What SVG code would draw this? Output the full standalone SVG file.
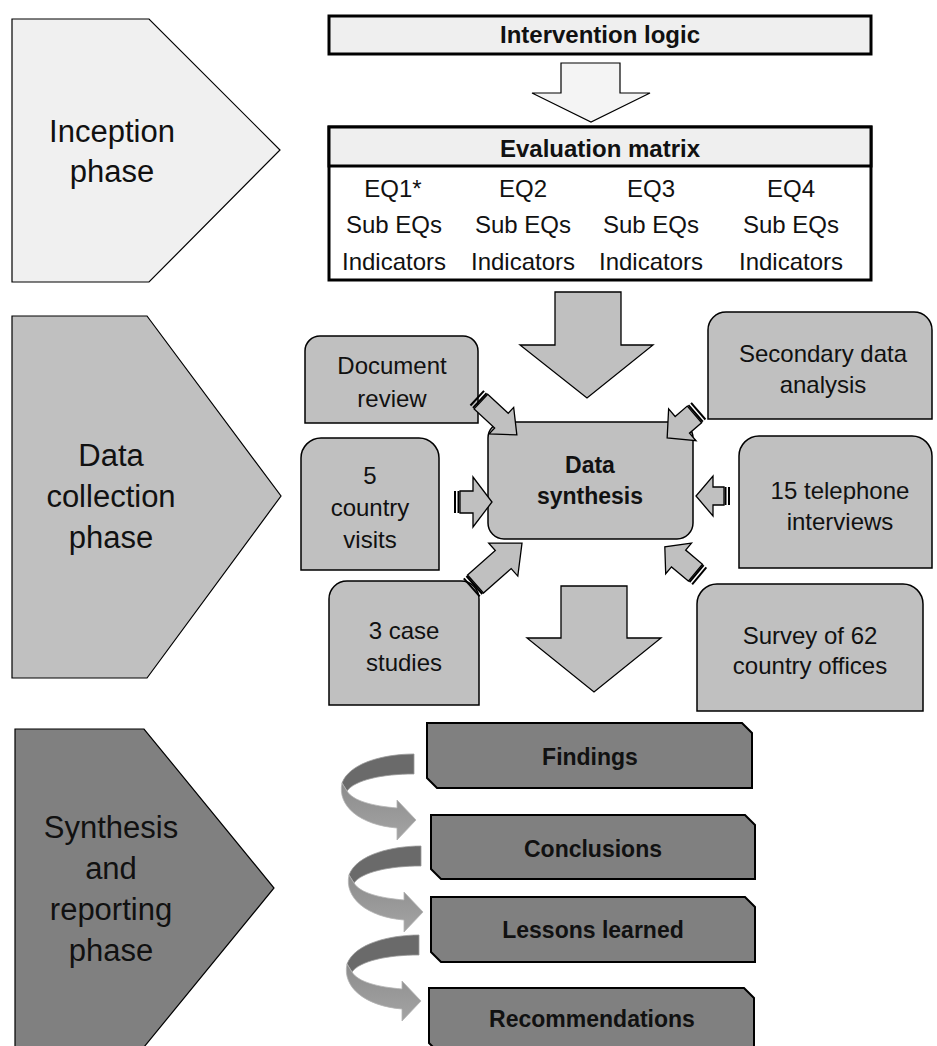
<svg xmlns="http://www.w3.org/2000/svg" width="937" height="1046" viewBox="0 0 937 1046">
<style>
text{font-family:"Liberation Sans",Arial,sans-serif;fill:#111;text-anchor:middle}
.ph{font-size:31px}
.bx{font-size:24px}
.mx{font-size:24px}
.b{font-weight:bold;font-size:23px}
.bh{font-weight:bold;font-size:24px}
.thick{stroke:#000;stroke-width:3}
.mid{fill:#c0c0c0;stroke:#000;stroke-width:1.5}
.dark{fill:#808080;stroke:#000;stroke-width:2}
.arr{fill:#c0c0c0;stroke:#000;stroke-width:1.3;stroke-linejoin:miter}
.stripe{fill:#000}
</style>
<defs>
<linearGradient id="ribbon" x1="0" y1="0" x2="0" y2="1">
<stop offset="0" stop-color="#8c8c8c"/>
<stop offset="1" stop-color="#a4a4a4"/>
</linearGradient>
<g id="curl">
<path d="M414,754 C386,754 350,762 342,783 L347,791 C355,780 382,774 414,774 Z" fill="#6a6a6a" stroke="#9a9a9a" stroke-width="0.8"/>
<path d="M342,783 C337,806 360,825 397,828 L397,840 L416,820 L397,800 L397,808 C373,806 353,801 347,791 Z" fill="url(#ribbon)" stroke="#b4b4b4" stroke-width="0.8"/>
</g>
</defs>

<g id="phase-inception">
<path d="M12,19 H149 L280,150 L149,282 H12 Z" fill="#f0f0f0" stroke="#000" stroke-width="1.2"/>
<text class="ph" x="112" y="142">Inception</text>
<text class="ph" x="112" y="182">phase</text>
</g>
<g id="phase-collection">
<path d="M12,316 H147 L281,496 L147,678 H12 Z" fill="#c0c0c0" stroke="#000" stroke-width="1.2"/>
<text class="ph" x="111" y="466">Data</text>
<text class="ph" x="111" y="507">collection</text>
<text class="ph" x="111" y="548">phase</text>
</g>
<g id="phase-synthesis">
<path d="M15,729 H144 L274,888 L144,1047 H15 Z" fill="#808080" stroke="#000" stroke-width="1.2"/>
<text class="ph" x="111" y="838">Synthesis</text>
<text class="ph" x="111" y="879">and</text>
<text class="ph" x="111" y="920">reporting</text>
<text class="ph" x="111" y="961">phase</text>
</g>

<g id="intervention-logic">
<rect x="329" y="16" width="542" height="38" fill="#efefef" class="thick"/>
<text class="bh" x="600" y="43">Intervention logic</text>
</g>
<g id="evaluation-matrix">
<rect x="329" y="127" width="542" height="153" fill="#ffffff" class="thick"/>
<rect x="329" y="127" width="542" height="39" fill="#efefef" class="thick"/>
<text class="bh" x="600" y="157">Evaluation matrix</text>
<text class="mx" x="393" y="197">EQ1*</text>
<text class="mx" x="523" y="197">EQ2</text>
<text class="mx" x="651" y="197">EQ3</text>
<text class="mx" x="791" y="197">EQ4</text>
<text class="mx" x="394" y="233">Sub EQs</text>
<text class="mx" x="523" y="233">Sub EQs</text>
<text class="mx" x="651" y="233">Sub EQs</text>
<text class="mx" x="791" y="233">Sub EQs</text>
<text class="mx" x="394" y="270">Indicators</text>
<text class="mx" x="523" y="270">Indicators</text>
<text class="mx" x="651" y="270">Indicators</text>
<text class="mx" x="791" y="270">Indicators</text>
</g>

<g id="data-synthesis">
<rect x="488" y="422" width="205" height="117" rx="16" ry="16" class="mid"/>
<text class="b" x="590" y="473">Data</text>
<text class="b" x="590" y="504">synthesis</text>
</g>
<g id="document-review">
<path d="M305,423 V351 A15,15 0 0 1 320,336 H463 A15,15 0 0 1 478,351 V423 Z" class="mid"/>
<text class="bx" x="392" y="374">Document</text>
<text class="bx" x="392" y="407">review</text>
</g>
<g id="country-visits">
<path d="M301,570 V458 A20,20 0 0 1 321,438 H419 A20,20 0 0 1 439,458 V570 Z" class="mid"/>
<text class="bx" x="370" y="484">5</text>
<text class="bx" x="370" y="516">country</text>
<text class="bx" x="370" y="548">visits</text>
</g>
<g id="case-studies">
<path d="M329,705 V599 A18,18 0 0 1 347,581 H461 A18,18 0 0 1 479,599 V705 Z" class="mid"/>
<text class="bx" x="404" y="639">3 case</text>
<text class="bx" x="404" y="671">studies</text>
</g>
<g id="secondary-data">
<path d="M708,419 V330 A18,18 0 0 1 726,312 H914 A18,18 0 0 1 932,330 V419 Z" class="mid"/>
<text class="bx" x="823" y="362">Secondary data</text>
<text class="bx" x="823" y="393">analysis</text>
</g>
<g id="telephone-interviews">
<path d="M739,568 V456 A20,20 0 0 1 759,436 H912 A20,20 0 0 1 932,456 V568 Z" class="mid"/>
<text class="bx" x="840" y="499">15 telephone</text>
<text class="bx" x="840" y="530">interviews</text>
</g>
<g id="survey">
<path d="M697,711 V604 A20,20 0 0 1 717,584 H903 A20,20 0 0 1 923,604 V711 Z" class="mid"/>
<text class="bx" x="810" y="644">Survey of 62</text>
<text class="bx" x="810" y="674">country offices</text>
</g>

<g id="findings">
<path d="M427,723 H742 L752,733 V788 H437 L427,778 Z" class="dark"/>
<text class="b" x="590" y="765">Findings</text>
</g>
<g id="conclusions">
<path d="M431,815 H745 L755,825 V879 H441 L431,869 Z" class="dark"/>
<text class="b" x="593" y="857">Conclusions</text>
</g>
<g id="lessons-learned">
<path d="M431,897 H745 L755,907 V962 H441 L431,952 Z" class="dark"/>
<text class="b" x="593" y="938">Lessons learned</text>
</g>
<g id="recommendations">
<path d="M429,988 H744 L754,998 V1053 H439 L429,1043 Z" class="dark"/>
<text class="b" x="592" y="1027">Recommendations</text>
</g>

<g id="connectors">
<path d="M561,63 H620 V93 H650 L591,122 L532,93 H561 Z" fill="#f4f4f4" stroke="#000" stroke-width="1.2"/>
<path d="M555,292 H621 V345 H653 L587,398 L520,345 H555 Z" class="arr"/>
<path d="M561,586 H627 V638 H661 L594,692 L527,638 H561 Z" class="arr"/>

<g transform="translate(476.5,397.5) rotate(42.8)">
<rect class="stripe" x="0" y="-10" width="2" height="20"/><rect class="stripe" x="3.5" y="-10" width="2" height="20"/>
<path class="arr" d="M6,-10 H34 V-18 L55,0 L34,18 V10 H6 Z"/>
</g>
<g transform="translate(699,410.5) rotate(139.3)">
<rect class="stripe" x="0" y="-11" width="2" height="22"/><rect class="stripe" x="3.5" y="-11" width="2" height="22"/>
<path class="arr" d="M6,-11 H22 V-21 L42,0 L22,21 V11 H6 Z"/>
</g>
<g transform="translate(471,588) rotate(-41.4)">
<rect class="stripe" x="0" y="-12" width="2" height="24"/><rect class="stripe" x="3.5" y="-12" width="2" height="24"/>
<path class="arr" d="M6,-12 H43 V-22 L68,0 L43,22 V12 H6 Z"/>
</g>
<g transform="translate(700,576.5) rotate(-139.9)">
<rect class="stripe" x="0" y="-11" width="2" height="22"/><rect class="stripe" x="3.5" y="-11" width="2" height="22"/>
<path class="arr" d="M6,-11 H28 V-20 L46,0 L28,20 V11 H6 Z"/>
</g>
<g transform="translate(454,502)">
<rect class="stripe" x="0" y="-11" width="2" height="22"/><rect class="stripe" x="3.5" y="-11" width="2" height="22"/>
<path class="arr" d="M6,-11 H19 V-25 L38,0 L19,25 V11 H6 Z"/>
</g>
<g transform="translate(730,496) rotate(180)">
<rect class="stripe" x="0" y="-9" width="2" height="18"/><rect class="stripe" x="3.5" y="-9" width="2" height="18"/>
<path class="arr" d="M6,-9 H17 V-20 L34,0 L17,20 V9 H6 Z"/>
</g>

<use href="#curl"/>
<use href="#curl" transform="translate(7,92)"/>
<use href="#curl" transform="translate(5,181)"/>
</g>
</svg>
